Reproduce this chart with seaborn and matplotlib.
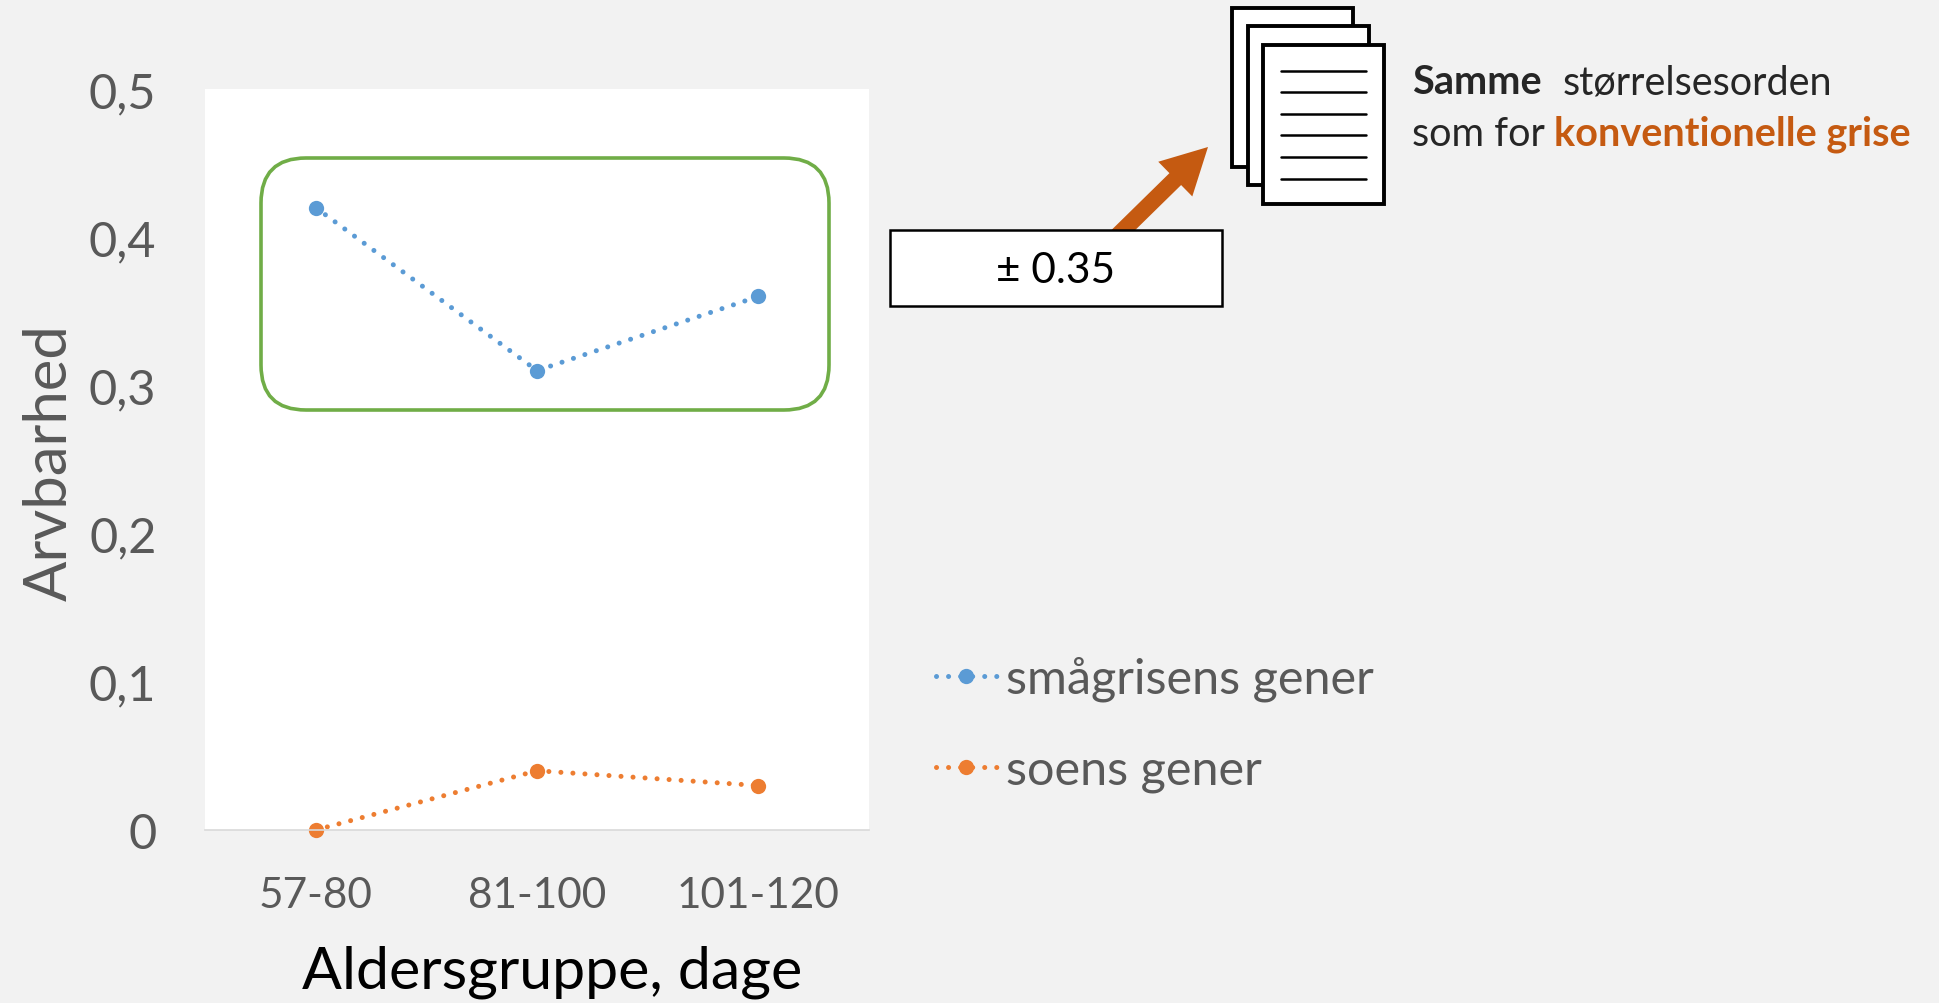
import pandas as pd
import seaborn as sns
import matplotlib.pyplot as plt
from matplotlib.patches import FancyBboxPatch, FancyArrowPatch, Rectangle

# values
age_groups = ['57-80', '81-100', '101-120']
piglet_genes = [0.42, 0.31, 0.36]
sow_genes = [0.0, 0.04, 0.03]
y_ticks = [0, 0.1, 0.2, 0.3, 0.4, 0.5]
y_labels = ['0', '0,1', '0,2', '0,3', '0,4', '0,5']

df = pd.concat([
    pd.DataFrame({'alder': age_groups, 'arvbarhed': piglet_genes, 'gener': 'smågrisens gener'}),
    pd.DataFrame({'alder': age_groups, 'arvbarhed': sow_genes, 'gener': 'soens gener'}),
])

W, H = 1939, 1004
BG = '#F2F2F2'
GREY = '#595959'
ORANGE = '#C55A11'

sns.set_theme(style='white')
plt.rcParams['font.family'] = ['Lato', 'DejaVu Sans']

fig = plt.figure(figsize=(W / 100, H / 100), dpi=100, facecolor=BG)
ax = fig.add_axes([205 / W, 1 - 831 / H, 664 / W, 741 / H], facecolor='white')

sns.lineplot(data=df, x='alder', y='arvbarhed', hue='gener',
             palette=['#5B9BD5', '#ED7D31'], errorbar=None, sort=False, ax=ax,
             marker='o', markersize=11, markeredgewidth=0, clip_on=False,
             linewidth=3.6, linestyle=(0, (0.01, 2.4)), dash_capstyle='round')

ax.set_xlim(-0.5, 2.5)
ax.set_ylim(0, 0.5)
ax.set_yticks(y_ticks, y_labels, va='center_baseline')
ax.tick_params(axis='y', labelsize=35, labelcolor=GREY, length=0, pad=35)
ax.tick_params(axis='x', labelsize=30.5, labelcolor=GREY, length=0, pad=33)
ax.set_xlabel('Aldersgruppe, dage', fontsize=42.5, color='black', va='center')
ax.set_ylabel('Arvbarhed', fontsize=43, color=GREY, va='center')
ax.xaxis.set_label_coords(0.5226, -0.19)
ax.yaxis.set_label_coords(-0.234, 0.497)
sns.despine(ax=ax, left=True, top=True, right=True)
ax.spines['bottom'].set_color('#D9D9D9')
ax.spines['bottom'].set_linewidth(1.2)

handles, labels = ax.get_legend_handles_labels()
ax.legend(handles, labels, loc='center left', bbox_to_anchor=(936 / W, 1 - 725 / H),
          bbox_transform=fig.transFigure, frameon=False, fontsize=35, labelcolor=GREY,
          borderpad=0, borderaxespad=0, handlelength=1.25, handletextpad=0.2, labelspacing=0.95)

# overlay in pixel coordinates for the annotations
over = fig.add_axes([0, 0, 1, 1], facecolor='none')
over.set_xlim(0, W)
over.set_ylim(H, 0)
over.axis('off')

over.add_patch(FancyBboxPatch((261 + 45, 159 + 45), 568 - 90, 252 - 90,
                              boxstyle='round,pad=45,rounding_size=45',
                              fc='none', ec='#70AD47', lw=2.6))

over.add_patch(FancyArrowPatch((1104, 250), (1208, 148),
                               arrowstyle='simple,head_width=35,head_length=33,tail_width=12',
                               mutation_scale=1, fc=ORANGE, ec=ORANGE, lw=0, shrinkA=0, shrinkB=0))

over.add_patch(Rectangle((890, 231), 332, 76, fc='white', ec='black', lw=1.8, zorder=3))
over.text(1056, 271, '± 0.35', fontsize=30.5, color='black', ha='center', va='center', zorder=4)

# stack of pages
for x, y in [(1232, 9), (1248, 27), (1263, 46)]:
    over.add_patch(Rectangle((x, y), 121, 159, fc='white', ec='black', lw=2.8))
for y in [72, 93, 115, 136, 158, 180]:
    over.plot([1281, 1366], [y, y], color='black', lw=1.8)

over.text(1412, 83, 'Samme', fontsize=28.5, fontweight='bold', color='#262626', va='center')
over.text(1563, 83, 'størrelsesorden', fontsize=28.5, color='#262626', va='center')
over.text(1412, 134, 'som for', fontsize=28.5, color='#262626', va='center')
over.text(1554, 134, 'konventionelle grise', fontsize=28.5, fontweight='bold', color=ORANGE, va='center')

fig.savefig('out.png', dpi=100, facecolor=BG)
